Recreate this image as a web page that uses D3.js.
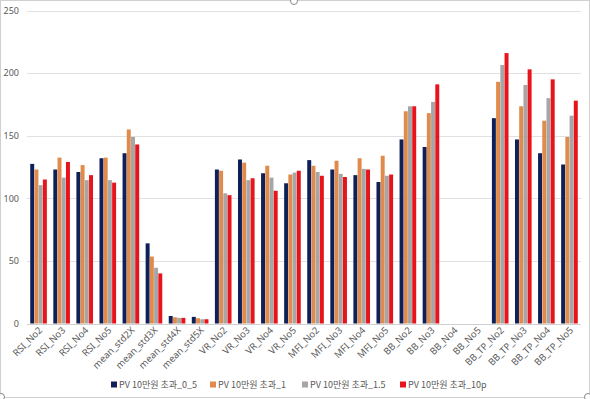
<!DOCTYPE html>
<html><head><meta charset="utf-8">
<script src="https://cdn.jsdelivr.net/npm/d3@7"></script>
<style>body{margin:0;background:#fff;}svg{display:block;}</style>
</head><body>
<svg id="c" width="590" height="399"></svg>
<script>
const categories = ["RSI_No2","RSI_No3","RSI_No4","RSI_No5","mean_std2X","mean_std3X","mean_std4X","mean_std5X","VR_No2","VR_No3","VR_No4","VR_No5","MFI_No2","MFI_No3","MFI_No4","MFI_No5","BB_No2","BB_No3","BB_No4","BB_No5","BB_TP_No2","BB_TP_No3","BB_TP_No4","BB_TP_No5"];
const seriesNames = ["PV 10만원 초과_0_5","PV 10만원 초과_1","PV 10만원 초과_1.5","PV 10만원 초과_10p"];
const s0_5 = [127.5,123,121,132,136,64,6,5.3,123,131,120,112,130.5,123,118.5,113,147,141,0,0,164,147,136,127];
const s1   = [123,132.5,126.5,132.5,155,53.5,5,4.2,122,128.5,126,119,126,130,132,134,169.5,168,0,0,193,173.5,162,149];
const s1_5 = [110.5,116.5,114.5,114.5,149,44.5,4.5,3.4,104,114.5,116.5,120.5,121,119.5,123.5,118,173.5,177,0,0,206.5,190.5,180,166];
const s10p = [115,129,118.5,112.5,143,40,4.5,3.4,102.5,116,106,122,118,117,123,119,173.5,191,0,0,216,203,195,178];
const yTicks = [0,50,100,150,200,250];
const colors = ["#0f1f58","#e08b4c","#a6a6a6","#e8141b"];

const series = [s0_5,s1,s1_5,s10p];
const svg = d3.select("#c");
const margin = {left:27,right:581,top:10.5,bottom:323.5};

svg.append("rect").attr("x",0.5).attr("y",0.5).attr("width",589).attr("height",397).attr("fill","none").attr("stroke","#d0d0d0");

const y = d3.scaleLinear().domain([0,250]).range([margin.bottom, margin.top]);
const x = d3.scaleBand().domain(categories).range([margin.left, margin.right]).paddingInner(0.28).paddingOuter(0.14);
const xs = d3.scaleBand().domain(d3.range(4)).range([0, x.bandwidth()]).paddingInner(0.06);

svg.append("g").selectAll("line").data(yTicks).join("line")
  .attr("x1",margin.left).attr("x2",margin.right)
  .attr("y1",d=>Math.round(y(d))+0.5).attr("y2",d=>Math.round(y(d))+0.5)
  .attr("stroke",d=>d===0?"#d0d0d0":"#e1e1e1").attr("stroke-width",1);

const yAxis = d3.axisLeft(y).tickValues(yTicks).tickSize(0).tickPadding(0);
const gy = svg.append("g").attr("transform",`translate(19,0)`).call(yAxis);
gy.select(".domain").remove();
gy.selectAll("text").attr("font-family","'Noto Sans', sans-serif").attr("font-size","9px").attr("fill","#595959");

const groups = svg.append("g").selectAll("g").data(categories).join("g")
  .attr("transform",d=>`translate(${x(d)},0)`);
groups.selectAll("rect").data((d,i)=>series.map((s,k)=>({k,v:s[i]}))).join("rect")
  .attr("x",d=>xs(d.k)).attr("width",xs.bandwidth())
  .attr("y",d=>y(d.v)).attr("height",d=>y(0)-y(d.v))
  .attr("fill",d=>colors[d.k]);

const xAxis = d3.axisBottom(x).tickSize(0).tickPadding(0);
const gx = svg.append("g").attr("transform",`translate(2,${margin.bottom+5})`).call(xAxis);
gx.select(".domain").remove();
gx.selectAll("text").attr("font-family","'Noto Sans', sans-serif").attr("font-size","9.5px").attr("fill","#595959")
  .attr("text-anchor","end").attr("y",0).attr("dy","0.35em").attr("dx","0")
  .attr("transform","rotate(-45)");

const legendX = [111,210,302,400];
const lg = svg.append("g").selectAll("g").data(seriesNames).join("g")
  .attr("transform",(d,i)=>`translate(${legendX[i]},385)`);
lg.append("rect").attr("x",0).attr("y",-3.5).attr("width",6).attr("height",6).attr("fill",(d,i)=>colors[i]);
lg.append("text").attr("x",8).attr("y",0).attr("dy","0.35em")
  .attr("font-family","'Noto Sans CJK KR', 'Noto Sans', sans-serif").attr("font-size","9px").attr("fill","#595959")
  .text(d=>d);

[[294,1],[1,397],[588,397]].forEach(p=>{
  svg.append("circle").attr("cx",p[0]).attr("cy",p[1]).attr("r",3.5).attr("fill","#fff").attr("stroke","#888");
});
</script>
</body></html>
